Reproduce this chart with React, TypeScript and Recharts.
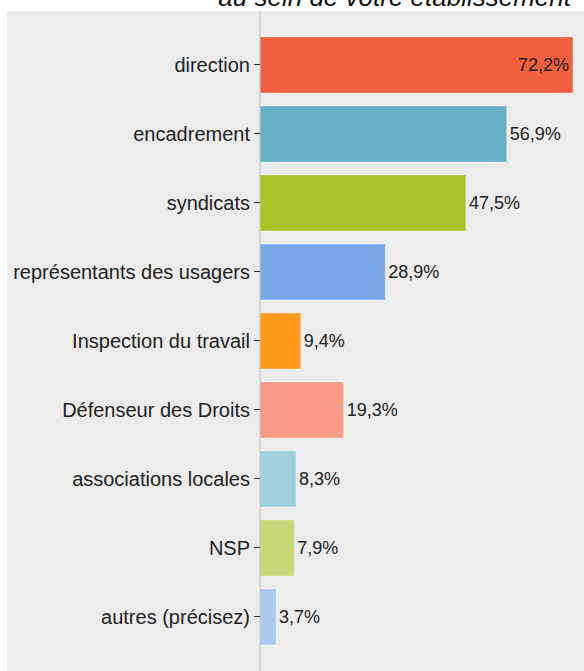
import React from "react";
import { BarChart, Bar, XAxis, YAxis, Cell, LabelList } from "recharts";

const categories = [
  "direction",
  "encadrement",
  "syndicats",
  "représentants des usagers",
  "Inspection du travail",
  "Défenseur des Droits",
  "associations locales",
  "NSP",
  "autres (précisez)",
];
const values = [72.2, 56.9, 47.5, 28.9, 9.4, 19.3, 8.3, 7.9, 3.7];
const colors = [
  "#f05f40",
  "#67afc6",
  "#a8c42a",
  "#7ba9e8",
  "#fd9a1a",
  "#f69c86",
  "#9ecfdb",
  "#c6d87a",
  "#aec8f0",
];
const titleText = "au sein de votre établissement";

const FONT = "'Liberation Sans', Arial, sans-serif";

const data = categories.map((name, i) => ({ name, value: values[i] }));

const fmt = (v: number) => String(v).replace(".", ",") + "%";

// big bars get their label inside, the rest to the right
const renderLabel = (props: any) => {
  const { x, y, width, height, value } = props;
  const inside = value > 70;
  return (
    <text
      x={inside ? x + width - 4 : x + width + 3}
      y={y + height / 2}
      dy="0.36em"
      textAnchor={inside ? "end" : "start"}
      fontFamily={FONT}
      fontSize={18}
      fill="#222"
    >
      {fmt(value)}
    </text>
  );
};

const App: React.FC = () => {
  return (
    <div
      style={{
        position: "absolute",
        left: 0,
        top: 0,
        width: 584,
        height: 671,
        overflow: "hidden",
        background: "#fff",
      }}
    >
      <svg width={584} height={11} style={{ position: "absolute", left: 0, top: 0 }}>
        <text
          x={571}
          y={6}
          textAnchor="end"
          fontFamily={FONT}
          fontStyle="italic"
          fontSize={26}
          fill="#111"
        >
          {titleText}
        </text>
      </svg>
      <div
        style={{
          position: "absolute",
          left: 7,
          top: 11,
          width: 577,
          height: 660,
          background: "#ececec",
        }}
      >
        <BarChart
          width={577}
          height={660}
          data={data}
          layout="vertical"
          margin={{ top: 0, right: 0, bottom: 0, left: 0 }}
        >
          <XAxis type="number" domain={[0, 74.75]} hide />
          <YAxis
            type="category"
            dataKey="name"
            width={253}
            padding={{ top: 19, bottom: 20 }}
            axisLine={{ stroke: "#bdbdbd", strokeWidth: 1 }}
            tickLine={{ stroke: "#333" }}
            tickSize={6}
            tickMargin={4}
            interval={0}
            tick={{ fontSize: 20, fill: "#222", fontFamily: FONT }}
          />
          <Bar
            dataKey="value"
            barSize={56}
            stroke="rgba(255,255,255,0.3)"
            isAnimationActive={false}
          >
            {data.map((d, i) => (
              <Cell key={d.name} fill={colors[i]} />
            ))}
            <LabelList dataKey="value" content={renderLabel} />
          </Bar>
        </BarChart>
      </div>
    </div>
  );
};

export default App;
